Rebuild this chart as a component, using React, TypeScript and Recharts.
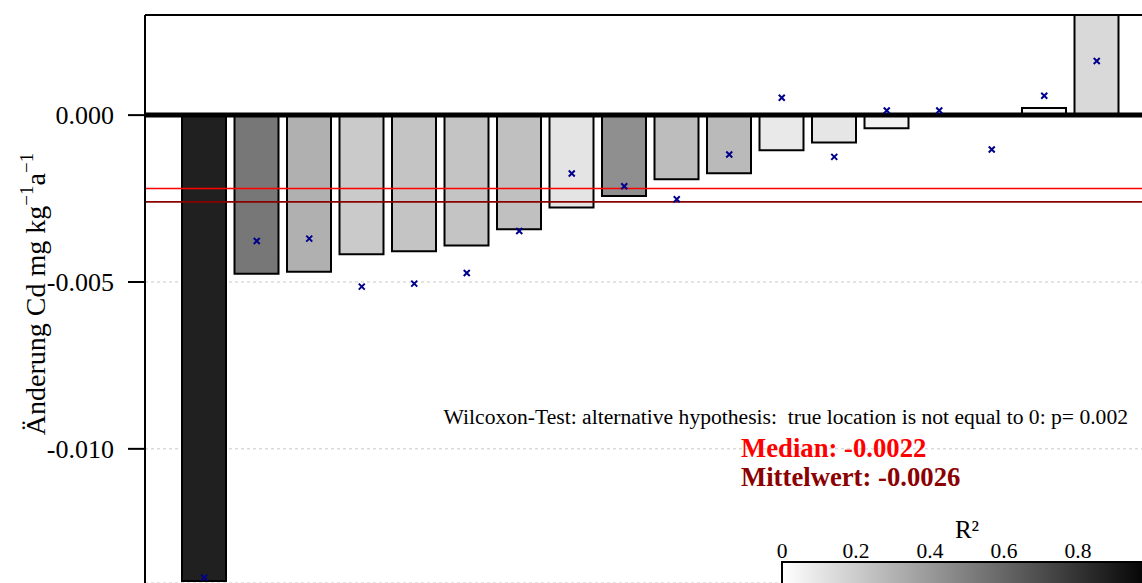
import React from 'react';
import {
  ComposedChart,
  Bar,
  Scatter,
  XAxis,
  YAxis,
  CartesianGrid,
  ReferenceLine,
  Cell,
} from 'recharts';

// Sites, sorted by their yearly Cd change
const sites = [
  'S01', 'S02', 'S03', 'S04', 'S05', 'S06', 'S07', 'S08', 'S09',
  'S10', 'S11', 'S12', 'S13', 'S14', 'S15', 'S16', 'S17', 'S18',
];

// Mean yearly change of Cd (mg kg-1 a-1) per site
const changeRates = [
  -0.01396, -0.00475, -0.00469, -0.00417, -0.00408, -0.00391, -0.00342, -0.00277, -0.00242,
  -0.00192, -0.00174, -0.00105, -0.00082, -0.00039, 0.0, 0.0, 0.00021, 0.0032,
];

// Slope of the regression per site
const regressionSlopes = [
  -0.01386, -0.00377, -0.0037, -0.00514, -0.00505, -0.00473, -0.00347, -0.00175, -0.00213,
  -0.00252, -0.00118, 0.00052, -0.00125, 0.00014, 0.00014, -0.00103, 0.00058, 0.00162,
];

// Coefficient of determination of the regression per site
const rSquared = [
  0.875, 0.533, 0.31, 0.208, 0.231, 0.231, 0.247, 0.106, 0.44,
  0.259, 0.27, 0.086, 0.098, 0.05, 0.02, 0.02, 0.027, 0.149,
];

const yTicks = [0, -0.005, -0.01];
const legendTicks = [0, 0.2, 0.4, 0.6, 0.8];
const medianValue = -0.0022;
const meanValue = -0.0026;
const pValue = 0.002;

const data = sites.map((site, i) => ({
  site,
  change: changeRates[i],
  slope: regressionSlopes[i],
  r2: rSquared[i],
}));

const grayFor = (r2: number) => {
  const g = Math.round(255 * (1 - r2));
  return `rgb(${g},${g},${g})`;
};

const FONT = '"Liberation Serif", "Times New Roman", serif';

const CrossMark = (props: any) => {
  const { cx, cy } = props;
  if (cx == null || cy == null) return null;
  const s = 3;
  return (
    <path
      d={`M${cx - s},${cy - s}L${cx + s},${cy + s}M${cx - s},${cy + s}L${cx + s},${cy - s}`}
      stroke="#00008B"
      strokeWidth={2}
      fill="none"
    />
  );
};

const W = 1142;
const H = 583;

// Colour scale bar: 0 at x=782, 0.2 per 74 px
const legendX0 = 782;
const legendStep = 370;

export default function App() {
  return (
    <div style={{ position: 'absolute', left: 0, top: 0, width: W, height: H, background: '#fff' }}>
      <ComposedChart
        width={W}
        height={H}
        data={data}
        margin={{ top: 15, right: 0, bottom: 0, left: 0 }}
        barCategoryGap={0}
      >
        <CartesianGrid
          horizontal
          vertical={false}
          stroke="#c8c8c8"
          strokeDasharray="3 3"
          strokeWidth={1}
        />
        <XAxis
          dataKey="site"
          type="category"
          hide
          padding={{ left: 33, right: 19 }}
        />
        <YAxis
          type="number"
          domain={[-0.01402, 0.003]}
          allowDataOverflow
          ticks={yTicks}
          interval={0}
          width={145}
          tickSize={17}
          tickMargin={14}
          tickFormatter={(v: number) => v.toFixed(3)}
          tick={{ fill: '#000', fontSize: 26, fontFamily: FONT }}
          axisLine={{ stroke: '#000', strokeWidth: 2 }}
          tickLine={{ stroke: '#000', strokeWidth: 2 }}
        />
        <Bar dataKey="change" barSize={44} stroke="#000" strokeWidth={2} isAnimationActive={false}>
          {data.map((d) => (
            <Cell key={d.site} fill={grayFor(d.r2)} />
          ))}
        </Bar>
        <ReferenceLine y={0.003} stroke="#000" strokeWidth={2} />
        <ReferenceLine y={0} stroke="#000" strokeWidth={5} />
        <ReferenceLine y={medianValue} stroke="#FF0000" strokeWidth={1.6} />
        <ReferenceLine y={meanValue} stroke="#8B0000" strokeWidth={1.6} />
        <Scatter dataKey="slope" shape={CrossMark} isAnimationActive={false} />
      </ComposedChart>

      <svg
        width={W}
        height={H}
        style={{ position: 'absolute', left: 0, top: 0, pointerEvents: 'none' }}
      >
        <defs>
          <linearGradient id="r2scale" x1="0" y1="0" x2="1" y2="0">
            <stop offset="0" stopColor="#ffffff" />
            <stop offset="1" stopColor="#000000" />
          </linearGradient>
        </defs>

        <text
          transform="translate(45,294) rotate(-90)"
          textAnchor="middle"
          fontFamily={FONT}
          fontSize={28}
          fill="#000"
        >
          Änderung Cd mg kg
          <tspan fontSize={19} dy={-12}>−1</tspan>
          <tspan dy={12}>a</tspan>
          <tspan fontSize={19} dy={-12}>−1</tspan>
        </text>

        <text
          x={1128}
          y={424}
          textAnchor="end"
          fontFamily={FONT}
          fontSize={21.6}
          fill="#000"
          style={{ whiteSpace: 'pre' }}
        >
          {`Wilcoxon-Test: alternative hypothesis:  true location is not equal to 0: p= ${pValue}`}
        </text>
        <text x={741} y={457} fontFamily={FONT} fontSize={26.7} fontWeight="bold" fill="#FF0000">
          {`Median: ${medianValue.toFixed(4)}`}
        </text>
        <text x={741} y={486} fontFamily={FONT} fontSize={26.7} fontWeight="bold" fill="#8B0000">
          {`Mittelwert: ${meanValue.toFixed(4)}`}
        </text>

        <text
          x={legendX0 + legendStep / 2}
          y={538}
          textAnchor="middle"
          fontFamily={FONT}
          fontSize={25}
          fill="#000"
        >
          R²
        </text>
        {legendTicks.map((t) => (
          <text
            key={t}
            x={legendX0 + t * legendStep}
            y={558}
            textAnchor="middle"
            fontFamily={FONT}
            fontSize={21.5}
            fill="#000"
          >
            {t === 0 ? '0' : t.toFixed(1)}
          </text>
        ))}
        <rect
          x={legendX0}
          y={562}
          width={legendStep}
          height={40}
          fill="url(#r2scale)"
          stroke="#000"
          strokeWidth={2}
        />
      </svg>
    </div>
  );
}
